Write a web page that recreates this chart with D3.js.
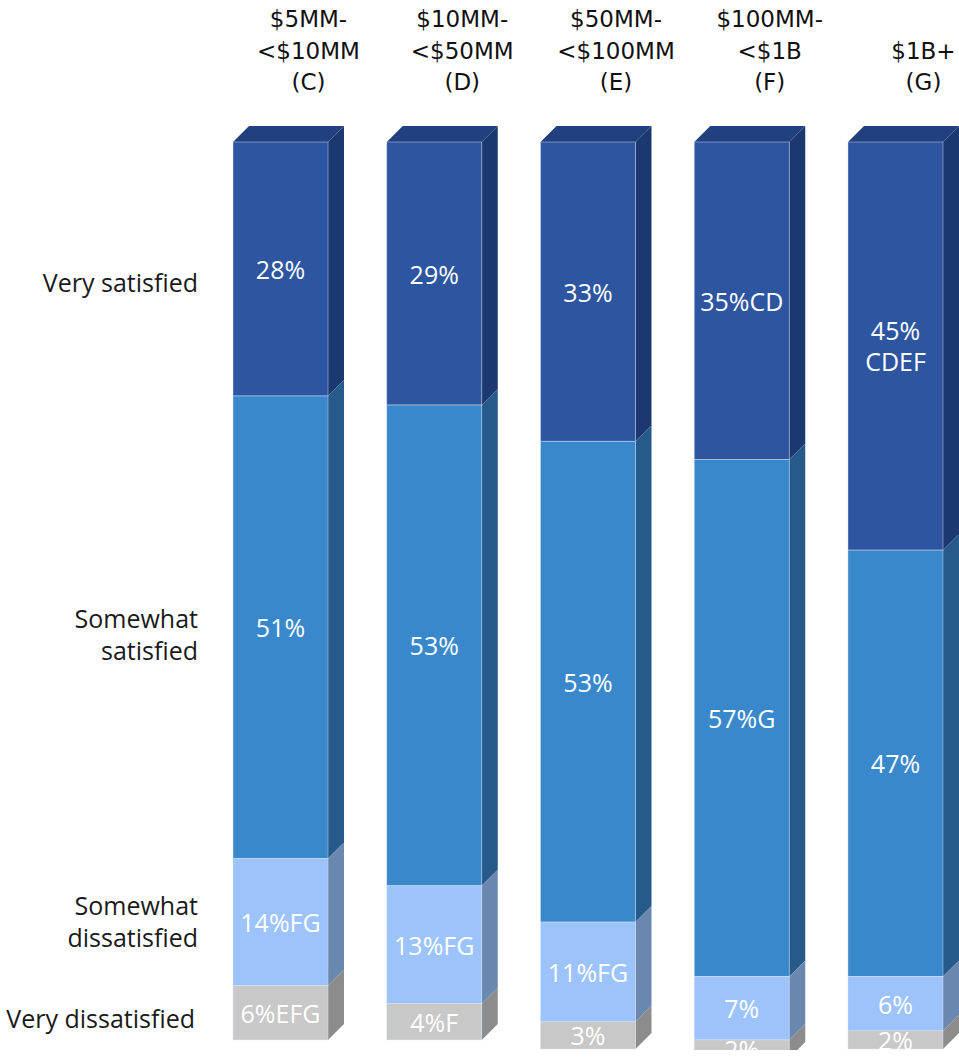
<!DOCTYPE html>
<html><head><meta charset="utf-8">
<script src="https://cdn.jsdelivr.net/npm/d3@7"></script>
<style>html,body{margin:0;padding:0;background:#fff;}svg{display:block;}</style>
</head><body>
<script>
// ---- data ----
const categories = ["C", "D", "E", "F", "G"];
const headerLines = [
  ["$5MM-", "<$10MM", "(C)"],
  ["$10MM-", "<$50MM", "(D)"],
  ["$50MM-", "<$100MM", "(E)"],
  ["$100MM-", "<$1B", "(F)"],
  ["", "$1B+", "(G)"]
];
const seriesNames = ["Very satisfied", "Somewhat satisfied", "Somewhat dissatisfied", "Very dissatisfied"];
const rowLabelLines = [["Very satisfied"], ["Somewhat", "satisfied"], ["Somewhat", "dissatisfied"], ["Very dissatisfied"]];
const verySatisfied = [28, 29, 33, 35, 45];
const somewhatSatisfied = [51, 53, 53, 57, 47];
const somewhatDissatisfied = [14, 13, 11, 7, 6];
const veryDissatisfied = [6, 4, 3, 2, 2];
const verySatisfiedSig = ["", "", "", "CD", "CDEF"];
const somewhatSatisfiedSig = ["", "", "", "G", ""];
const somewhatDissatisfiedSig = ["FG", "FG", "FG", "", ""];
const veryDissatisfiedSig = ["EFG", "F", "", "", ""];

// ---- styles ----
const frontColors = ["#2E55A0", "#3A88CC", "#9DC3FC", "#C8C8C8"];
const sideColors = ["#1C3870", "#255A8A", "#6A87B0", "#8C8C8C"];
const topColor = "#22407F";

const W = 959, H = 1058;
const depth = 16;
const series = [verySatisfied, somewhatSatisfied, somewhatDissatisfied, veryDissatisfied];
const sigs = [verySatisfiedSig, somewhatSatisfiedSig, somewhatDissatisfiedSig, veryDissatisfiedSig];

const svg = d3.select("body").append("svg").attr("width", W).attr("height", H);
svg.append("defs").append("clipPath").attr("id", "clip")
  .append("rect").attr("x", 0).attr("y", 0).attr("width", W).attr("height", 1050);

const x = d3.scaleBand().domain(categories).range([233, 943]).paddingInner(0.382).paddingOuter(0);
const y = d3.scaleLinear().domain([0, 100]).range([142, 1049]); // stacked from the top

// build stacks
const stacked = categories.map((c, i) => {
  let acc = 0;
  return series.map((s, k) => {
    const y0 = acc; acc += s[i];
    return { cat: c, k, v: s[i], sig: sigs[k][i], y0, y1: acc };
  });
});

const g = svg.append("g").attr("clip-path", "url(#clip)");
const bw = x.bandwidth();

stacked.forEach((segs, i) => {
  const cat = categories[i];
  const x0 = x(cat), x1 = x0 + bw;
  const bg = g.append("g");
  // side faces
  bg.selectAll("path.side").data(segs).enter().append("path")
    .attr("fill", d => sideColors[d.k])
    .attr("d", d => {
      const a = y(d.y0), b = y(d.y1);
      return `M${x1},${a}L${x1 + depth},${a - depth}L${x1 + depth},${b - depth}L${x1},${b}Z`;
    });
  // top face
  const t = y(0);
  bg.append("path").attr("fill", topColor)
    .attr("d", `M${x0},${t}L${x0 + depth},${t - depth}L${x1 + depth},${t - depth}L${x1},${t}Z`);
  // front faces
  bg.selectAll("rect.front").data(segs).enter().append("rect")
    .attr("x", x0).attr("y", d => y(d.y0))
    .attr("width", bw).attr("height", d => y(d.y1) - y(d.y0))
    .attr("fill", d => frontColors[d.k])
    .attr("stroke", "rgba(220,228,240,0.55)").attr("stroke-width", 0.8);
  // labels
  segs.forEach(d => {
    const cy = (y(d.y0) + y(d.y1)) / 2;
    const full = d.v + "%" + d.sig;
    const txt = bg.append("text").attr("x", x0 + bw / 2).attr("text-anchor", "middle")
      .attr("fill", "#fff").attr("font-family", "'Open Sans', sans-serif").attr("font-size", 25);
    txt.text(full);
    if (txt.node().getComputedTextLength() > bw - 4 && d.sig) {
      txt.text(null);
      txt.append("tspan").attr("x", x0 + bw / 2).attr("y", cy - 15 + 9).text(d.v + "%");
      txt.append("tspan").attr("x", x0 + bw / 2).attr("y", cy + 16 + 9).text(d.sig);
    } else {
      txt.attr("y", cy + 10);
    }
  });
});

// headers
categories.forEach((c, i) => {
  const cx = x(c) + bw / 2 + 28;
  headerLines[i].forEach((line, j) => {
    svg.append("text").attr("x", cx).attr("y", 27 + j * 31.5)
      .attr("text-anchor", "middle").attr("fill", "#111")
      .attr("font-family", "'DejaVu Sans', sans-serif").attr("font-size", 23)
      .text(line);
  });
});

// row labels, placed beside the first bar's segments
const rowNudge = [14, 8, 0, 6];
stacked[0].forEach((d, k) => {
  const cy = (y(d.y0) + y(d.y1)) / 2 + rowNudge[k];
  const lines = rowLabelLines[k];
  const lh = 32;
  lines.forEach((line, j) => {
    svg.append("text").attr("x", k === 3 ? 195 : 198)
      .attr("y", cy - (lines.length - 1) * lh / 2 + j * lh + 9)
      .attr("text-anchor", "end").attr("fill", "#1a1a1a")
      .attr("font-family", "'Open Sans', sans-serif").attr("font-size", 25)
      .text(line);
  });
});
</script>
</body></html>
